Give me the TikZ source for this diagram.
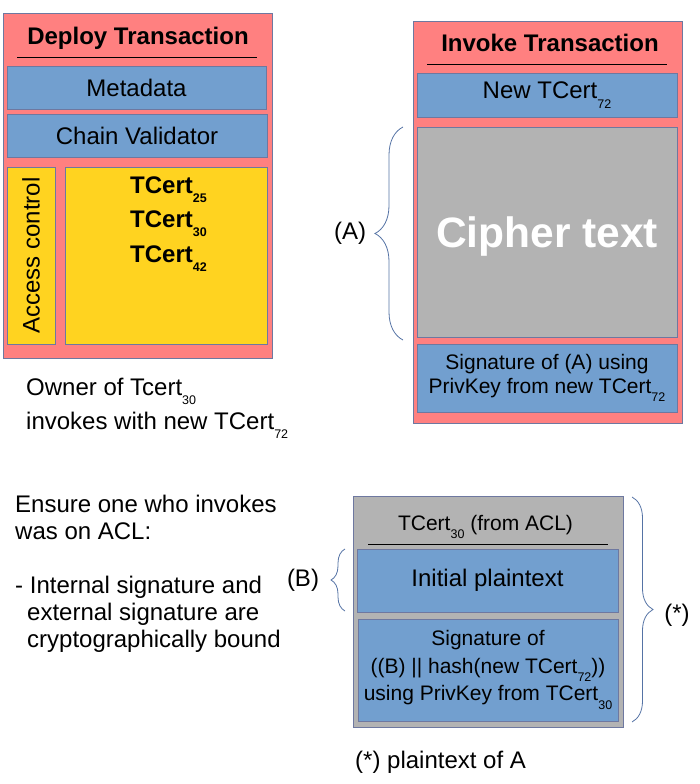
\documentclass[tikz,border=0pt]{standalone}
\usepackage{fontspec}
\setmainfont{Liberation Sans}
\usetikzlibrary{decorations.pathreplacing}
\definecolor{boxred}{RGB}{255,128,128}
\definecolor{boxblue}{RGB}{114,159,207}
\definecolor{boxyellow}{RGB}{255,211,32}
\definecolor{boxgrey}{RGB}{179,179,179}
\definecolor{edgeblue}{RGB}{110,120,160}
\definecolor{braceblue}{RGB}{85,115,165}
\newcommand{\drawbox}[3]{\node[draw=edgeblue,fill=#1,rectangle,line width=0.8pt,minimum width=#2,minimum height=#3,inner sep=0,align=center]}
\newcommand{\drawtext}{\node[inner sep=0]}
\newcommand{\fsz}[1]{\fontsize{#1}{#1}\selectfont}
\newcommand{\tsub}[1]{\raisebox{-0.4em}{\fontsize{12.5}{12.5}\selectfont #1}}

\begin{document}
\begin{tikzpicture}[x=1pt, y=-1pt,
  brace/.style={draw=braceblue, line width=0.8pt, decorate, decoration={brace,amplitude=#1}},
  rule/.style={line width=0.8pt}]
\useasboundingbox (0,0) rectangle (700,784);
%deploy transaction
\drawbox{boxred}{269pt}{345pt} (dep) at (137.5,185.5) {};
\drawtext[anchor=base] (depT) at (138,45) {\fsz{24}\bfseries Deploy Transaction};
\coordinate (depL) at (17,57);
\coordinate (depR) at (257,57);
\draw[rule] (depL) -- (depR);
\drawbox{boxblue}{259pt}{43pt} (meta) at (136.5,87.5) {\fsz{24}Metadata};
\drawbox{boxblue}{260pt}{43pt} (chain) at (137,135.5) {\fsz{24}Chain Validator};
\drawbox{boxyellow}{48pt}{177pt} (acl) at (31,255.5) {};
\drawtext[rotate=90] (aclT) at (acl.center) {\fsz{24}Access control};
\drawbox{boxyellow}{202pt}{177pt} (certs) at (166,255.5) {};
\drawtext[anchor=base west] (c25) at (130,193) {\fsz{24}\bfseries TCert\tsub{25}};
\drawtext[anchor=base west] (c30) at (130,227) {\fsz{24}\bfseries TCert\tsub{30}};
\drawtext[anchor=base west] (c42) at (130,262) {\fsz{24}\bfseries TCert\tsub{42}};
\drawtext[anchor=base west] (own1) at (26,395) {\fsz{24}Owner of Tcert\tsub{30}};
\drawtext[anchor=base west] (own2) at (26,429) {\fsz{24}invokes with new TCert\tsub{72}};

%invoke transaction
\drawbox{boxred}{269pt}{402pt} (inv) at (547.5,222) {};
\drawtext[anchor=base] (invT) at (550,52) {\fsz{24}\bfseries Invoke Transaction};
\coordinate (invL) at (427,64);
\coordinate (invR) at (667,64);
\draw[rule] (invL) -- (invR);
\drawbox{boxblue}{260pt}{44pt} (newc) at (547,95) {\fsz{24}New TCert\tsub{72}};
\drawbox{boxgrey}{260pt}{210pt} (ciph) at (547,232) {};
\drawtext[anchor=base] (ciphT) at (547,247) {\fsz{42.5}\bfseries\color{white}Cipher text};
\drawbox{boxblue}{260pt}{68pt} (sig) at (547,378) [font={\fontsize{21}{24}\selectfont}] {Signature of (A) using\\PrivKey from new TCert\tsub{72}};
\coordinate (aBot) at (403,340);
\coordinate (aTop) at (403,127);
\draw[brace=28] (aBot) -- (aTop);
\drawtext (aT) at (350,233) {\fsz{24}(A)};

%plaintext of A
\drawbox{boxgrey}{270pt}{231pt} (plain) at (488,611.5) {};
\drawtext[anchor=base] (plainT) at (485.5,530) {\fsz{21}TCert\tsub{30} (from ACL)};
\coordinate (plainL) at (368,544);
\coordinate (plainR) at (608,544);
\draw[rule] (plainL) -- (plainR);
\drawbox{boxblue}{261pt}{63pt} (init) at (487.5,580.5) {\fsz{24}Initial plaintext};
\drawbox{boxblue}{260pt}{102pt} (sigB) at (488,670) [font={\fontsize{21}{27.5}\selectfont}] {Signature of\\((B) || hash(new TCert\tsub{72}))\\using PrivKey from TCert\tsub{30}};
\coordinate (bBot) at (345,611);
\coordinate (bTop) at (345,549);
\draw[brace=14] (bBot) -- (bTop);
\drawtext (bT) at (303,580) {\fsz{24}(B)};
\coordinate (sTop) at (632,497);
\coordinate (sBot) at (632,722);
\draw[brace=21] (sTop) -- (sBot);
\drawtext (sT) at (677,615) {\fsz{24}(*)};
\drawtext[anchor=base west] (note) at (355,768) {\fsz{24}(*) plaintext of A};

%ACL remark
\drawtext[anchor=north west, align=left, font={\fontsize{24}{27}\selectfont}] (remark) at (15,494.5) {Ensure one who invokes\\was on ACL:\\[27pt]- Internal signature and\\\hspace*{12pt}external signature are\\\hspace*{12pt}cryptographically bound};
\end{tikzpicture}
\end{document}
